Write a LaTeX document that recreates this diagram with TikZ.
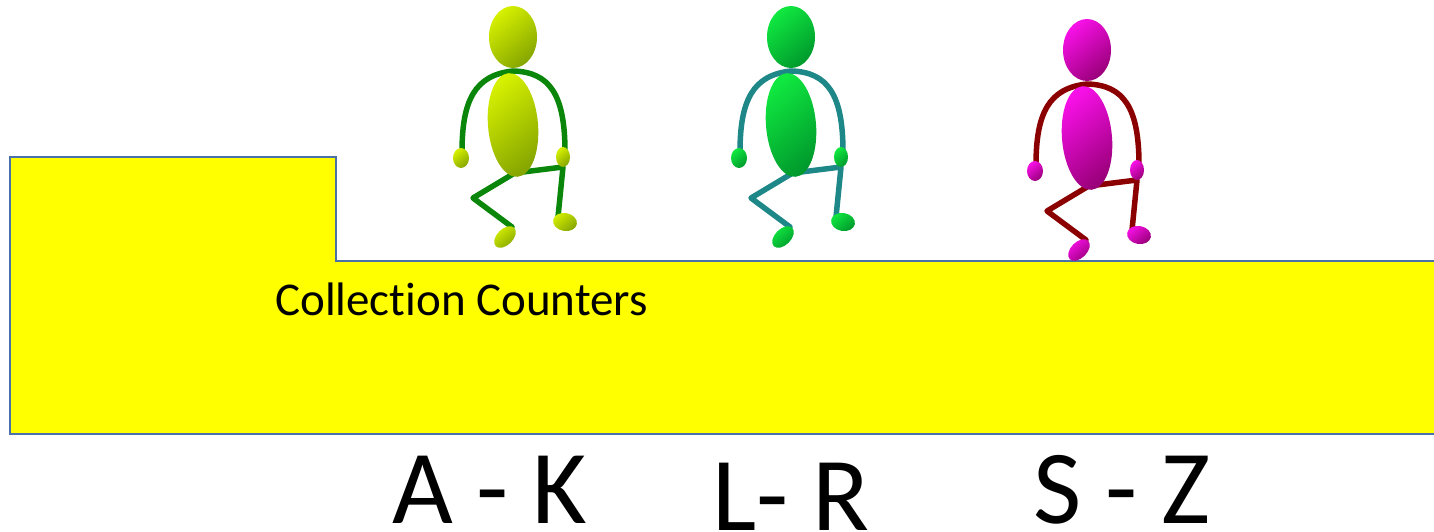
\documentclass[tikz,border=0pt]{standalone}
\usepackage{fontspec}
\setmainfont[Ligatures={NoCommon,NoContextual}]{Carlito}
\definecolor{boxline}{HTML}{4A72A8}
\definecolor{boxfill}{HTML}{FFFF00}
\definecolor{gLight}{HTML}{D6F000}
\definecolor{gDark}{HTML}{86A600}
\definecolor{gLimb}{HTML}{0A870A}
\definecolor{nLight}{HTML}{10E840}
\definecolor{nDark}{HTML}{009A2C}
\definecolor{nLimb}{HTML}{1E8888}
\definecolor{mLight}{HTML}{F810E8}
\definecolor{mDark}{HTML}{9A007A}
\definecolor{mLimb}{HTML}{8B0000}
\tikzset{
  pics/stick/.style n args={3}{code={
    \draw[#3, line width=5.5pt, line cap=round]
      (-51,115) .. controls (-51,63) and (-38,38) .. (0,34)
                .. controls (37,35) and (52,58) .. (52,115);
    \draw[#3, line width=5.5pt, line cap=round, line join=round]
      (0,137) -- (-40,161) -- (-1,190);
    \draw[#3, line width=5.5pt, line cap=round, line join=round]
      (2,136) -- (50,130) -- (45,180);
    \shade[top color=#1, bottom color=#2, shading angle=40, rotate around={5:(0,88)}]
      (0,88) ellipse [x radius=25pt, y radius=52pt];
    \shade[top color=#1, bottom color=#2, shading angle=40]
      (0,0) ellipse [x radius=24pt, y radius=31pt];
    \shade[top color=#1, bottom color=#2, shading angle=40]
      (-52,121) ellipse [x radius=8pt, y radius=10pt];
    \shade[top color=#1, bottom color=#2, shading angle=40]
      (50,120) ellipse [x radius=7pt, y radius=10pt];
    \shade[top color=#1, bottom color=#2, shading angle=40, rotate around={45:(-8,200)}]
      (-8,200) ellipse [x radius=13pt, y radius=8pt];
    \shade[top color=#1, bottom color=#2, shading angle=40, rotate around={-10:(52,185)}]
      (52,185) ellipse [x radius=12pt, y radius=9pt];
  }},
  biglabel/.style={inner sep=0pt, anchor=base west, font=\fontsize{105}{120}\selectfont},
  counterlabel/.style={inner sep=0pt, anchor=base west, font=\fontsize{47}{56}\selectfont}
}
\begin{document}
\begin{tikzpicture}[x=1pt, y=-1pt]
  \useasboundingbox (0,0) rectangle (1434,532);
  % counter block
  \fill[boxfill] (10,157) -- (336,157) -- (336,261) -- (1434,261) -- (1434,434) -- (10,434) -- cycle;
  \draw[boxline, line width=2.2pt] (1434,261) -- (336,261) -- (336,157) -- (10,157) -- (10,434) -- (1434,434);
  \node[counterlabel] (cc) at (275,315) {Collect\kern0pt ion Counters};
  % figures
  \pic at (513,37) {stick={gLight}{gDark}{gLimb}};
  \pic at (791,37) {stick={nLight}{nDark}{nLimb}};
  \pic at (1087,50) {stick={mLight}{mDark}{mLimb}};
  % labels
  \node[biglabel] (ak) at (392,523) {A - K};
  \node[biglabel] (lr) at (712,530) {L- R};
  \node[biglabel] (sz) at (1033,523) {S - Z};
\end{tikzpicture}
\end{document}
